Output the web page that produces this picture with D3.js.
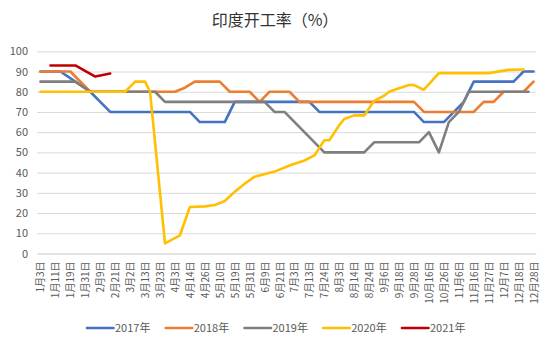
<!DOCTYPE html>
<html><head><meta charset="utf-8">
<script src="https://cdn.jsdelivr.net/npm/d3@7"></script>
<style>body{margin:0;background:#fff} svg{display:block}</style>
</head><body>
<svg id="c" width="550" height="348"></svg>
<script>
// Category axis: 100 categories, every 3rd one labelled
const categoryCount = 100;
const tickLabels = ["1月3日","1月11日","1月19日","1月31日","2月9日","2月21日","3月2日","3月13日","3月23日","4月3日","4月14日","4月26日","5月10日","5月19日","5月31日","6月9日","6月21日","7月3日","7月13日","7月24日","8月3日","8月14日","8月24日","9月6日","9月18日","9月28日","10月16日","10月26日","11月6日","11月16日","11月27日","12月7日","12月18日","12月28日"];
const yTicks = [0,10,20,30,40,50,60,70,80,90,100];
const seriesNames = ["2017年","2018年","2019年","2020年","2021年"];
const seriesColors = ["#4472C4","#ED7D31","#7F7F7F","#FFC000","#C00000"];
// values: [category index, value]
const v2017 = [[0,90],[4,90],[7,85],[10,80],[12,75],[14,70],[30,70],[32,65],[37,65],[39,75],[54,75],[56,70],[75,70],[77,65],[81,65],[85,75],[87,85],[95,85],[97,90],[99,90]];
const v2018 = [[0,90],[6,90],[10,80],[27,80],[29,82],[31,85],[36,85],[38,80],[42,80],[44,75],[46,80],[50,80],[52,75],[75,75],[77,70],[87,70],[89,75],[91,75],[93,80],[97,80],[99,85]];
const v2019 = [[0,85],[7,85],[10,80],[23,80],[25,75],[45,75],[47,70],[49,70],[57,50],[65,50],[67,55],[76,55],[78,60],[80,50],[82,65],[84,70],[86,80],[98,80]];
const v2020 = [[0,80],[17,80],[19,85],[21,85],[22,80],[25,5],[28,9],[30,23],[33,23.3],[35,24],[37,26],[39,30.5],[41,34.5],[43,38],[47,40.5],[50,43.5],[53,46],[55,48.5],[57,56],[58,56],[60,63.5],[61,66.5],[63,68.3],[65,68.3],[67,75.5],[69,78],[70,80],[72,81.7],[74,83.3],[75,83.3],[77,81],[80,89.2],[90,89.2],[94,90.8],[97,91]];
const v2021 = [[2,93],[7,93],[11,87.5],[14,89]];
const seriesValues = [v2017, v2018, v2019, v2020, v2021];

const svg = d3.select("#c");
const font = "'Noto Sans CJK SC','Noto Sans',sans-serif";
const plotL = 37, plotR = 536, plotT = 51.3, plotB = 253.5;

const x = d3.scalePoint().domain(d3.range(categoryCount)).range([plotL + 1, plotR]).padding(0.5);
const y = d3.scaleLinear().domain([0, 100]).range([plotB, plotT]);

// title
svg.append("text").attr("x", 275).attr("y", 26).attr("text-anchor", "middle")
  .attr("font-family", font).attr("font-size", 16).attr("fill", "#333").text("印度开工率（%）");

// y axis with gridlines
const yAxis = svg.append("g").attr("transform", `translate(${plotL},0)`)
  .call(d3.axisLeft(y).tickValues(yTicks).tickSize(-(plotR - plotL)).tickPadding(9));
yAxis.select(".domain").remove();
yAxis.selectAll("line").attr("stroke", "#d9d9d9");
yAxis.selectAll("text").attr("fill", "#595959").attr("font-size", 11).attr("font-family", font);

// x axis
const xAxis = svg.append("g").attr("transform", `translate(0,${plotB})`)
  .call(d3.axisBottom(x).tickValues(d3.range(0, categoryCount, 3)).tickFormat(i => tickLabels[i / 3]).tickSize(0));
xAxis.select(".domain").attr("stroke", "#d9d9d9");
xAxis.selectAll("text").attr("transform", "rotate(-90)").attr("x", -8).attr("y", 0).attr("dy", "0.35em")
  .style("text-anchor", "end").attr("fill", "#595959").attr("font-size", 10).attr("font-family", font);

// lines
const line = d3.line().x(d => x(d[0])).y(d => y(d[1]));
seriesValues.forEach((vals, k) => {
  svg.append("path").datum(vals).attr("d", line).attr("fill", "none")
    .attr("stroke", seriesColors[k]).attr("stroke-width", 2.6)
    .attr("stroke-linejoin", "round").attr("stroke-linecap", "round");
});

// legend
const legend = svg.append("g").attr("transform", "translate(87,328)");
seriesNames.forEach((name, k) => {
  const g = legend.append("g").attr("transform", `translate(${k * 78.75},0)`);
  g.append("line").attr("x1", 0).attr("x2", 26.5).attr("y1", 0).attr("y2", 0)
    .attr("stroke", seriesColors[k]).attr("stroke-width", 2.6).attr("stroke-linecap", "round");
  g.append("text").attr("x", 28).attr("y", 0).attr("dy", "0.35em").attr("font-family", font)
    .attr("font-size", 11).attr("fill", "#595959").text(name);
});
</script>
</body></html>
